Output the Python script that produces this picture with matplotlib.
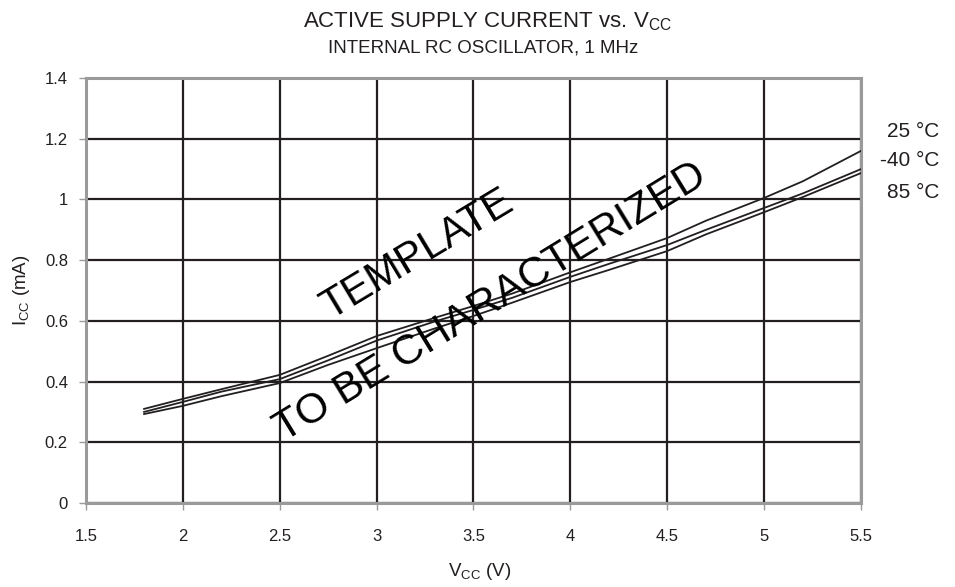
import numpy as np
import matplotlib
matplotlib.use('Agg')
import matplotlib.pyplot as plt

plt.rcParams['font.family'] = ['Liberation Sans', 'DejaVu Sans']
plt.rcParams['mathtext.default'] = 'regular'

# supply voltage (V)
vcc = [1.8, 2.0, 2.2, 2.5, 2.75, 3.0, 3.3, 3.5, 3.7, 4.0, 4.2, 4.5, 4.7, 5.0, 5.2, 5.5]
# supply current (mA) per temperature
icc_25 = [0.31, 0.343, 0.375, 0.422, 0.485, 0.55, 0.61, 0.649, 0.69, 0.76, 0.805, 0.873, 0.93, 1.005, 1.06, 1.16]
icc_m40 = [0.30, 0.333, 0.367, 0.408, 0.47, 0.535, 0.598, 0.636, 0.676, 0.745, 0.788, 0.85, 0.90, 0.972, 1.02, 1.10]
icc_85 = [0.293, 0.32, 0.352, 0.395, 0.455, 0.51, 0.575, 0.616, 0.66, 0.728, 0.768, 0.83, 0.885, 0.958, 1.008, 1.087]

labels = ['25 °C', '-40 °C', '85 °C']
xticks = [1.5, 2, 2.5, 3, 3.5, 4, 4.5, 5, 5.5]
yticks = [0, 0.2, 0.4, 0.6, 0.8, 1, 1.2, 1.4]


def main():
    fig = plt.figure(figsize=(9.55, 5.87), dpi=100)
    ax = fig.add_axes([0.090, 0.1431, 0.8116, 0.724])

    for y in (icc_25, icc_m40, icc_85):
        ax.plot(vcc, y, color='#231f20', lw=1.3, zorder=3)

    ax.set_xlim(1.5, 5.5)
    ax.set_ylim(0, 1.4)
    ax.set_xticks(xticks)
    ax.set_xticklabels([f'{t:g}' for t in xticks])
    ax.set_yticks(yticks)
    ax.set_yticklabels([f'{t:g}' for t in yticks])
    ax.grid(True, color='#231f20', lw=1.6)
    ax.set_axisbelow(True)
    for s in ax.spines.values():
        s.set_color('#9a9a9a')
        s.set_linewidth(2.2)
    ax.tick_params(direction='out', length=5, width=1, color='#9a9a9a',
                   labelsize=12, labelcolor='#231f20')
    ax.tick_params(axis='x', pad=14)
    ax.tick_params(axis='y', pad=8)

    fig.text(0.502, 0.026, 'V$_{CC}$ (V)', ha='center', va='center',
             fontsize=13.5, color='#231f20')
    fig.text(0.022, 0.505, 'I$_{CC}$ (mA)', ha='center', va='center', rotation=90,
             fontsize=13.5, color='#231f20')

    fig.text(0.51, 0.9625, 'ACTIVE SUPPLY CURRENT vs. V$_{CC}$', ha='center', va='center',
             fontsize=16, color='#231f20')
    fig.text(0.506, 0.918, 'INTERNAL RC OSCILLATOR, 1 MHz', ha='center', va='center',
             fontsize=13.5, color='#231f20')

    for lab, yp in zip(labels, [131, 161, 192]):
        fig.text(0.984, 1 - yp / 587, lab, ha='right', va='center', fontsize=15, color='#231f20')

    # watermark
    ax.text(3.21, 0.818, 'TEMPLATE', rotation=31, ha='center', va='center',
            fontsize=30, color='black', rotation_mode='anchor', zorder=4)
    ax.text(3.59, 0.66, 'TO BE CHARACTERIZED', rotation=31.5, ha='center', va='center',
            fontsize=30.5, color='black', rotation_mode='anchor', zorder=4)

    fig.savefig('out.png', dpi=100)


if __name__ == "__main__":
    main()
